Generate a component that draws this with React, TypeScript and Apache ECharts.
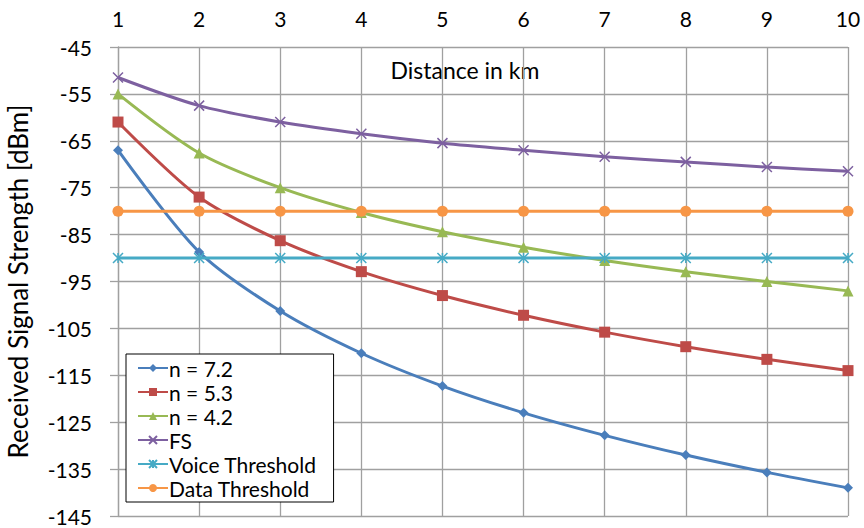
import React, { useEffect, useRef } from "react";
import * as echarts from "echarts";

const distances = [1, 2, 3, 4, 5, 6, 7, 8, 9, 10];
const n72 = [-67, -88.7, -101.3, -110.3, -117.3, -123, -127.8, -132, -135.7, -139];
const n53 = [-61, -77, -86.3, -92.9, -98, -102.2, -105.8, -108.9, -111.6, -114];
const n42 = [-55, -67.6, -75, -80.3, -84.4, -87.7, -90.5, -92.9, -95, -97];
const fs = [-51.5, -57.5, -61, -63.5, -65.5, -67, -68.4, -69.5, -70.6, -71.5];
const voice = [-90, -90, -90, -90, -90, -90, -90, -90, -90, -90];
const dataTh = [-80, -80, -80, -80, -80, -80, -80, -80, -80, -80];

const FONT = "Lato";

const X_PATH = "path://M0,0L10,10M10,0L0,10";
const STAR_PATH = "path://M0,0L10,10M10,0L0,10M5,0L5,10";

export default function App() {
  const ref = useRef<HTMLDivElement>(null);
  useEffect(() => {
    if (!ref.current) return;
    const chart = echarts.init(ref.current, undefined, { renderer: "svg" });
    const pts = (ys: number[]) => distances.map((d, i) => [d, ys[i]]);
    const mk = (
      name: string,
      ys: number[],
      color: string,
      symbol: string,
      size: number,
      stroke = false,
      smooth = 0.3
    ) => ({
      name,
      type: "line",
      data: pts(ys),
      smooth,
      symbol,
      symbolSize: size,
      showSymbol: true,
      lineStyle: { color, width: 3 },
      itemStyle: stroke
        ? { color, borderColor: color, borderWidth: 1.5 }
        : { color },
      emphasis: { disabled: true },
    });
    chart.setOption({
      animation: false,
      backgroundColor: "#ffffff",
      grid: { left: 118, right: 16, top: 47, bottom: 12, outerBoundsMode: "none", containLabel: false },
      xAxis: {
        type: "value",
        position: "top",
        min: 1,
        max: 10,
        interval: 1,
        axisLine: { show: false },
        axisTick: { show: false },
        axisLabel: { fontFamily: FONT, fontSize: 21, color: "#000", margin: 18 },
        splitLine: { show: true, lineStyle: { color: "#a0a0a0", width: 1.3 } },
      },
      yAxis: {
        type: "value",
        min: -145,
        max: -45,
        interval: 10,
        name: "Received Signal Strength [dBm]",
        nameLocation: "middle",
        nameGap: 87,
        nameTextStyle: { fontFamily: FONT, fontSize: 26, color: "#000" },
        axisLine: { show: true, lineStyle: { color: "#a0a0a0", width: 1.3 } },
        axisTick: { show: true, length: 8, lineStyle: { color: "#a0a0a0", width: 1.3 } },
        axisLabel: { fontFamily: FONT, fontSize: 21, color: "#000", margin: 26 },
        splitLine: { show: true, lineStyle: { color: "#a0a0a0", width: 1.3 } },
      },
      legend: {
        orient: "vertical",
        left: 126,
        top: 354,
        padding: [3, 17, 3, 11],
        itemGap: 2,
        itemWidth: 30,
        itemHeight: 10,
        backgroundColor: "#ffffff",
        borderColor: "#000",
        borderWidth: 1,
        borderRadius: 0,
        textStyle: { fontFamily: FONT, fontSize: 21, lineHeight: 22, color: "#000", padding: [0, 0, 0, -4] },
        data: ["n = 7.2", "n = 5.3", "n = 4.2", "FS", "Voice Threshold", "Data Threshold"],
      },
      graphic: [
        {
          type: "text",
          x: 465,
          y: 70,
          style: {
            text: "Distance in km",
            fontFamily: FONT,
            fontSize: 23,
            fill: "#000",
            textAlign: "center",
            textVerticalAlign: "middle",
          },
        },
      ],
      series: [
        mk("n = 7.2", n72, "#4A7EBB", "diamond", 10),
        mk("n = 5.3", n53, "#BE4B48", "rect", 11),
        mk("n = 4.2", n42, "#98B954", "triangle", 11),
        mk("FS", fs, "#7D60A0", X_PATH, 10, true),
        mk("Voice Threshold", voice, "#46AAC5", STAR_PATH, 10, true, 0),
        mk("Data Threshold", dataTh, "#F79646", "circle", 11, false, 0),
      ],
    });
    return () => chart.dispose();
  }, []);
  return <div ref={ref} style={{ width: 864, height: 528, position: "absolute", left: 0, top: 0 }} />;
}
